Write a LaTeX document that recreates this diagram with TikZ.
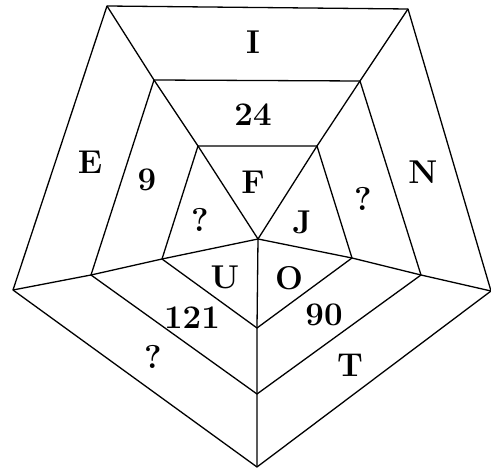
\documentclass[tikz,border=0pt]{standalone}
\usepackage{tikz}
\usetikzlibrary{positioning,calc}
\tikzset{every node/.append style={align=center}}
\tikzset{
  edge/.style={line width=1.3pt, line join=round},
  cell/.style={font=\fontsize{33}{36}\selectfont\bfseries, inner sep=0pt}
}

\begin{document}
\begin{tikzpicture}[x=1pt, y=-1pt]
  \useasboundingbox (0,0) rectangle (491,473);
  % outer ring
  \coordinate (o1) at (107,6);
  \coordinate (o2) at (408,9);
  \coordinate (o3) at (491,291);
  \coordinate (o4) at (257,467);
  \coordinate (o5) at (13,290);
  % middle ring
  \coordinate (m1) at (154,80);
  \coordinate (m2) at (360,81);
  \coordinate (m3) at (421,275);
  \coordinate (m4) at (257,394);
  \coordinate (m5) at (91,275);
  % inner ring
  \coordinate (i1) at (198,146);
  \coordinate (i2) at (317,146);
  \coordinate (i3) at (352,258);
  \coordinate (i4) at (257,328);
  \coordinate (i5) at (162,259);
  \coordinate (hub) at (258,239);

  \draw[edge] (o1) -- (o2) -- (o3) -- (o4) -- (o5) -- cycle;
  \draw[edge] (m1) -- (m2) -- (m3) -- (m4) -- (m5) -- cycle;
  \draw[edge] (i1) -- (i2) -- (i3) -- (i4) -- (i5) -- cycle;
  \draw[edge] (o1) -- (m1) -- (i1) -- (hub);
  \draw[edge] (o2) -- (m2) -- (i2) -- (hub);
  \draw[edge] (o3) -- (m3) -- (i3) -- (hub);
  \draw[edge] (o4) -- (m4) -- (i4) -- (hub);
  \draw[edge] (o5) -- (m5) -- (i5) -- (hub);

  \node[cell] (lI) at (253,42) {I};
  \node[cell] (l24) at (253,115) {24};
  \node[cell] (lE) at (90,162) {E};
  \node[cell] (l9) at (147,180) {9};
  \node[cell] (lF) at (253,182) {F};
  \node[cell] (qa) at (200,220) {?};
  \node[cell] (lJ) at (302,222) {J};
  \node[cell] (qb) at (363,199) {?};
  \node[cell] (lN) at (423,172) {N};
  \node[cell] (lU) at (225,277) {U};
  \node[cell] (lO) at (289,278) {O};
  \node[cell] (l121) at (192,318) {121};
  \node[cell] (l90) at (324,315) {90};
  \node[cell] (qc) at (153,357) {?};
  \node[cell] (lT) at (350,365) {T};
\end{tikzpicture}
\end{document}
